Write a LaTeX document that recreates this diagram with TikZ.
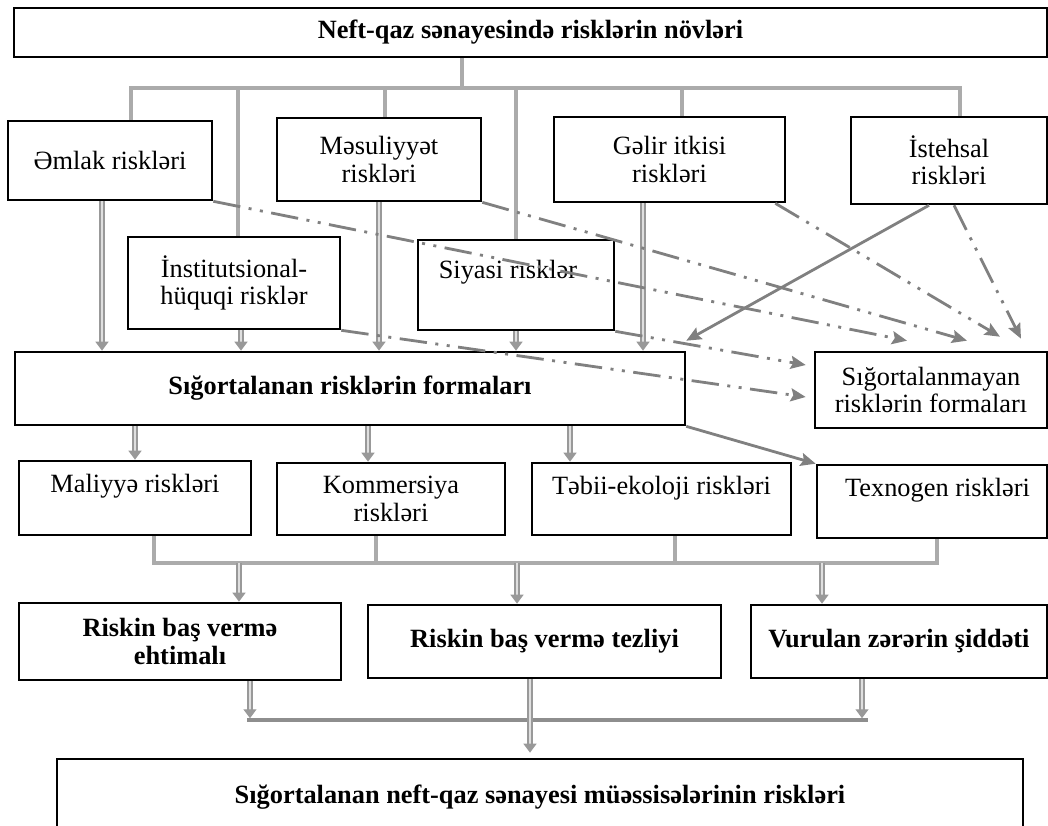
\documentclass[tikz,border=0pt]{standalone}
\usepackage{fontspec}
\setmainfont{Liberation Serif}
\usetikzlibrary{arrows.meta}

\definecolor{tree grey}{HTML}{ABABAB}
\definecolor{link grey}{HTML}{808080}
\definecolor{bar grey}{HTML}{8E8E8E}

\begin{document}
\begin{tikzpicture}[x=0.02cm, y=-0.02cm,
  box/.style={draw, line width=1.5pt, fill=white, align=center, inner sep=0pt, font=\fontsize{15}{15.5}\selectfont},
  bold box/.style={box, font=\fontsize{15}{15.5}\selectfont\bfseries},
  box text/.style={anchor=base, font=\fontsize{15}{15.5}\selectfont},
  tree/.style={draw=tree grey, line width=2pt},
  dbl/.style={draw=gray!80, double=gray!25, line width=0.8pt, double distance=1.4pt, -{Triangle[length=0.18cm, width=0.26cm]}},
  link/.style={draw=link grey, line width=1.6pt, dash pattern=on 0.55cm off 0.17cm on 0.06cm off 0.17cm on 0.06cm off 0.17cm, -{Stealth[length=0.3cm, width=0.26cm, inset=0.05cm]}},
  plain link/.style={draw=link grey, line width=1.6pt, -{Stealth[length=0.3cm, width=0.26cm, inset=0.05cm]}}]
\clip (0, 0) rectangle (1048, 825);

\node[bold box, minimum width=20.66cm, minimum height=0.98cm] (top box) at (530.5, 32.5) {Neft-qaz sənayesində risklərin növləri};

\node[box, minimum width=4.08cm, minimum height=1.58cm] (emlak box) at (110, 160.5) {Əmlak riskləri};
\node[box, minimum width=4.08cm, minimum height=1.66cm] (mesuliyyet box) at (379, 159.5) {Məsuliyyət\\riskləri};
\node[box, minimum width=4.62cm, minimum height=1.70cm] (gelir box) at (669.5, 159.5) {Gəlir itkisi\\riskləri};
\node[box, minimum width=3.92cm, minimum height=1.74cm] (istehsal box) at (949, 160.5) {İstehsal\\riskləri};

\node[box, minimum width=4.24cm, minimum height=1.84cm] (institut box) at (234, 283) {İnstitutsional-\\hüquqi risklər};
\node[box, minimum width=3.92cm, minimum height=1.80cm] (siyasi box) at (516, 285) {};
\node[box text] (siyasi label) at ([xshift=-0.16cm, yshift=-0.8cm] siyasi box.north) {Siyasi rısklər};

\node[bold box, minimum width=13.4cm, minimum height=1.46cm] (sigortalanan box) at (350, 388.5) {Sığortalanan risklərin formaları};
\node[box, minimum width=4.64cm, minimum height=1.52cm] (sigortalanmayan box) at (931, 390) {Sığortalanmayan\\risklərin formaları};

\node[box, minimum width=4.64cm, minimum height=1.48cm] (maliyye box) at (135, 498) {};
\node[box text] (maliyye label) at ([yshift=-0.66cm] maliyye box.north) {Maliyyə riskləri};
\node[box, minimum width=4.56cm, minimum height=1.44cm] (kommersiya box) at (391, 499) {Kommersiya\\riskləri};
\node[box, minimum width=5.18cm, minimum height=1.44cm] (tebii box) at (661.5, 499) {};
\node[box text] (tebii label) at ([yshift=-0.66cm] tebii box.north) {Təbii-ekoloji riskləri};
\node[box, minimum width=4.60cm, minimum height=1.46cm] (texnogen box) at (932, 501.5) {};
\node[box text] (texnogen label) at ([xshift=0.11cm, yshift=-0.66cm] texnogen box.north) {Texnogen riskləri};

\node[bold box, minimum width=6.44cm, minimum height=1.54cm] (ehtimal box) at (180, 641.5) {Riskin baş vermə\\ehtimalı};
\node[bold box, minimum width=7.06cm, minimum height=1.46cm] (tezlik box) at (544.5, 641.5) {Riskin baş vermə tezliyi};
\node[bold box, minimum width=5.92cm, minimum height=1.46cm] (siddet box) at (899, 641.5) {Vurulan zərərin şiddəti};

\node[bold box, minimum width=19.32cm, minimum height=1.52cm] (result box) at (540, 797) {Sığortalanan neft-qaz sənayesi müəssisələrinin riskləri};

\coordinate (top split) at (462, 88);
\draw[tree] (top split |- top box.south) -- (top split) {};
\draw[tree] ([xshift=0.42cm] emlak box.north) |- (top split) {};
\draw[tree] ([xshift=0.08cm] institut box.north) |- (top split) {};
\draw[tree] ([xshift=0.12cm] mesuliyyet box.north) |- (top split) {};
\draw[tree] (siyasi box.north) |- (top split) {};
\draw[tree] ([xshift=0.25cm] gelir box.north) |- (top split) {};
\draw[tree] ([xshift=0.22cm] istehsal box.north) |- (top split) {};

\draw[dbl] ([xshift=-0.16cm] emlak box.south) -- ([xshift=-0.16cm] emlak box.south |- sigortalanan box.north) {};
\draw[dbl] ([xshift=0.14cm] institut box.south) -- ([xshift=0.14cm] institut box.south |- sigortalanan box.north) {};
\draw[dbl] (mesuliyyet box.south) -- (mesuliyyet box.south |- sigortalanan box.north) {};
\draw[dbl] (siyasi box.south) -- (siyasi box.south |- sigortalanan box.north) {};
\draw[dbl] ([xshift=-0.53cm] gelir box.south) -- ([xshift=-0.53cm] gelir box.south |- sigortalanan box.north) {};

\draw[link] (emlak box.south east) -- ([xshift=-0.48cm, yshift=0.2cm] sigortalanmayan box.north) {};
\draw[link] (mesuliyyet box.south east) -- ([xshift=0.72cm, yshift=0.2cm] sigortalanmayan box.north) {};
\draw[link] ([xshift=-0.22cm] gelir box.south east) -- ([xshift=1.38cm, yshift=0.28cm] sigortalanmayan box.north) {};
\draw[link] ([xshift=0.1cm] istehsal box.south) -- ([xshift=1.8cm, yshift=0.24cm] sigortalanmayan box.north) {};
\draw[link] (siyasi box.south east) -- ([xshift=-0.16cm, yshift=0.5cm] sigortalanmayan box.west) {};
\draw[link] (institut box.south east) -- ([xshift=-0.16cm, yshift=-0.14cm] sigortalanmayan box.west) {};
\draw[plain link] ([xshift=-0.4cm] istehsal box.south) -- ([yshift=0.2cm] sigortalanan box.north east) {};
\draw[plain link] (sigortalanan box.south east) -- (texnogen box.north west) {};

\draw[dbl] (maliyye box.north |- sigortalanan box.south) -- (maliyye box.north) {};
\draw[dbl] ([xshift=-0.46cm] kommersiya box.north |- sigortalanan box.south) -- ([xshift=-0.46cm] kommersiya box.north) {};
\draw[dbl] ([xshift=-1.83cm] tebii box.north |- sigortalanan box.south) -- ([xshift=-1.83cm] tebii box.north) {};

\coordinate (mid split) at (517, 563);
\draw[tree] ([xshift=0.38cm] maliyye box.south) |- (mid split) {};
\draw[tree] ([xshift=-0.3cm] kommersiya box.south) |- (mid split) {};
\draw[tree] ([xshift=0.27cm] tebii box.south) |- (mid split) {};
\draw[tree] ([xshift=0.1cm] texnogen box.south) |- (mid split) {};

\draw[dbl] ([xshift=1.18cm] ehtimal box.north |- mid split) -- ([xshift=1.18cm] ehtimal box.north) {};
\draw[dbl] ([xshift=-0.55cm] tezlik box.north |- mid split) -- ([xshift=-0.55cm] tezlik box.north) {};
\draw[dbl] ([xshift=-1.54cm] siddet box.north |- mid split) -- ([xshift=-1.54cm] siddet box.north) {};

\coordinate (low bar west) at (247, 720);
\coordinate (low bar east) at (868, 720);
\draw[draw=bar grey, line width=2.2pt] (low bar west) -- (low bar east) {};
\draw[dbl, shorten >=1pt] ([xshift=1.4cm] ehtimal box.south) -- ([xshift=1.4cm] ehtimal box.south |- low bar west) {};
\draw[dbl, shorten >=1pt] ([xshift=-0.74cm] siddet box.south) -- ([xshift=-0.74cm] siddet box.south |- low bar west) {};
\draw[dbl, shorten >=0.1cm] ([xshift=-0.29cm] tezlik box.south) -- ([xshift=-0.29cm] tezlik box.south |- result box.north) {};
\end{tikzpicture}
\end{document}
